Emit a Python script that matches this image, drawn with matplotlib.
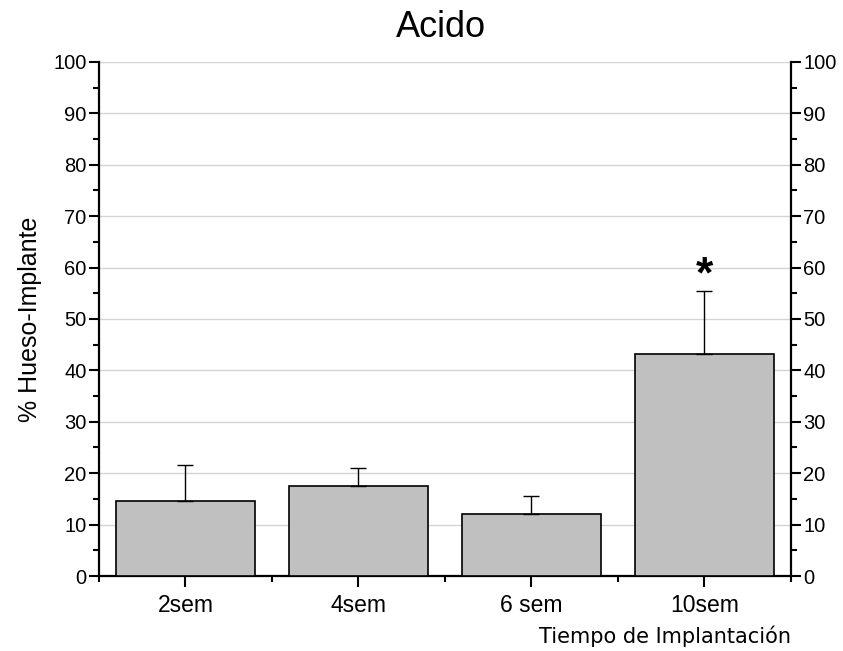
import matplotlib
matplotlib.use("Agg")
import matplotlib.pyplot as plt
import numpy as np

categories = ["2sem", "4sem", "6 sem", "10sem"]
means = [14.6, 17.5, 12.1, 43.2]
errors = [7.0, 3.5, 3.5, 12.2]
significant = [False, False, False, True]

plt.rcParams['font.family'] = ['Liberation Sans', 'DejaVu Sans']

fig = plt.figure(figsize=(8.43, 6.51), dpi=100)
ax = fig.add_axes([0.1174, 0.1152, 0.8209, 0.7896])

x = np.arange(1, len(categories) + 1)
ax.bar(x, means, width=0.8, color='#c0c0c0', edgecolor='black', linewidth=1.2, zorder=3)
ax.errorbar(x, means, yerr=[np.zeros(len(errors)), errors], fmt='none', ecolor='black',
            elinewidth=1, capsize=6, capthick=1, zorder=4)

for xi, m, e, s in zip(x, means, errors, significant):
    if s:
        ax.text(xi, m + e + 0.8, '*', ha='center', va='baseline', fontsize=32, fontweight='bold')

ax.set_xlim(0.5, 4.5)
ax.set_ylim(0, 100)
ax.set_xticks(x)
ax.set_xticklabels(categories)
ax.set_xticks([0.5, 1.5, 2.5, 3.5, 4.5], minor=True)
ax.set_yticks(np.arange(0, 101, 10))
ax.set_yticks(np.arange(5, 100, 10), minor=True)
ax.tick_params(axis='y', labelsize=14.5, width=1.5, length=7, direction='out', pad=2,
               left=True, right=True, labelright=True)
ax.tick_params(axis='y', which='minor', length=4, width=1.5, left=True, right=True)
ax.tick_params(axis='x', which='major', length=8, width=1.5, direction='out', labelsize=16.5, pad=5)
ax.tick_params(axis='x', which='minor', length=4, width=1.5, direction='out')

for side in ['left', 'right', 'bottom']:
    ax.spines[side].set_linewidth(1.6)
ax.spines['top'].set_visible(False)

ax.grid(axis='y', color='#d4d4d4', linewidth=1, zorder=0)
ax.set_axisbelow(True)

ax.set_ylabel('% Hueso-Implante', fontsize=18, labelpad=8)
ax.text(1.0, -0.096, 'Tiempo de Implantación', transform=ax.transAxes, ha='right', va='top',
        fontsize=15, family='DejaVu Sans')
fig.text(0.523, 0.985, 'Acido', ha='center', va='top', fontsize=26,
         family=['Liberation Sans Narrow', 'Liberation Sans'])

fig.savefig('out.png', dpi=100)
